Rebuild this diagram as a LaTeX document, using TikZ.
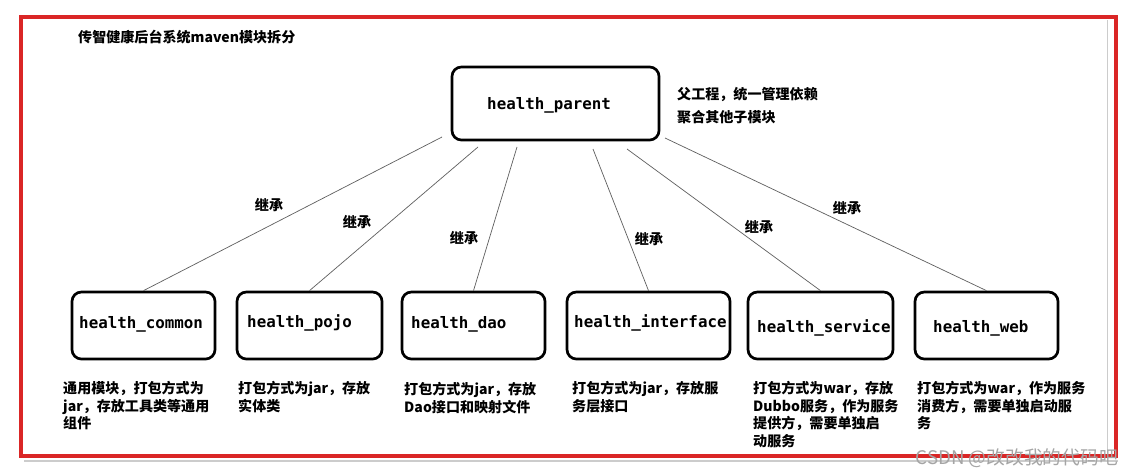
\documentclass[tikz,border=0pt]{standalone}
\usepackage{fontspec}
\usepackage{xcolor}
\usepackage{tikz}
\usetikzlibrary{positioning,calc}
\setmainfont{Noto Sans CJK SC}
\newfontfamily\mono{DejaVu Sans Mono}
\definecolor{ro}{RGB}{218,38,38}
\definecolor{gr}{RGB}{95,95,95}
\definecolor{wm}{RGB}{165,165,165}

\begin{document}
\begin{tikzpicture}[x=0.03cm,y=-0.03cm,
  modul/.style={draw,line width=2.3pt,rounded corners=8pt,inner sep=0pt,minimum height=2.01cm},
  modtxt/.style={anchor=west,inner sep=0pt,font=\mono\bfseries\fontsize{13.5}{16}\selectfont},
  notiz/.style={anchor=north west,inner sep=0pt,align=left,font=\bfseries\fontsize{12}{15}\selectfont},
  erbt/.style={line width=0.6pt,draw=gr},
  erbtxt/.style={inner sep=0pt,font=\bfseries\fontsize{12}{14}\selectfont}]
  \fill[white] (0,0) rectangle (1136,476);
  \useasboundingbox (0,0) rectangle (1136,476);

  % frame
  \draw[gray!40,line width=0.8pt] (1107,20) -- (1107,453);
  \draw[gray!40,line width=1pt] (24,461) -- (1118,461);
  \draw[ro,line width=2.8pt] (21,17) rectangle (1116,456);
  \node[anchor=west,inner sep=0pt,font=\bfseries\fontsize{12}{14}\selectfont] (titel) at (78,37) {传智健康后台系统maven模块拆分};

  % parent
  \node[modul,minimum width=6.21cm,minimum height=2.19cm] (parent) at (555.5,103.5) {};
  \node[modtxt] (tparent) at (487,105) {health\_parent};
  \node[notiz,font=\bfseries\fontsize{12}{19.6}\selectfont] (nparent) at (677,87.5) {父工程，统一管理依赖\\聚合其他子模块};

  % modules
  \node[modul,minimum width=4.29cm] (common) at (143.5,325.5) {};
  \node[modul,minimum width=4.35cm] (pojo) at (309.5,325.5) {};
  \node[modul,minimum width=4.29cm] (dao) at (473.5,325.5) {};
  \node[modul,minimum width=4.89cm] (interface) at (648.5,325.5) {};
  \node[modul,minimum width=4.35cm] (service) at (820.5,325.5) {};
  \node[modul,minimum width=4.29cm] (web) at (986.5,325.5) {};

  \node[modtxt] (tcommon) at (79,324) {health\_common};
  \node[modtxt] (tpojo) at (247,323) {health\_pojo};
  \node[modtxt] (tdao) at (411,324) {health\_dao};
  \node[modtxt] (tinterface) at (574,323) {health\_interface};
  \node[modtxt] (tservice) at (757,328) {health\_service};
  \node[modtxt] (tweb) at (933,328) {health\_web};

  % inheritance
  \coordinate (s1) at (442,137);
  \coordinate (s2) at (478,147);
  \coordinate (s3) at (517,147);
  \coordinate (s4) at (593,149);
  \coordinate (s5) at (627,149);
  \coordinate (s6) at (665,138);
  \draw[erbt] (s1) -- (common.north);
  \draw[erbt] (s2) -- (pojo.north);
  \draw[erbt] (s3) -- (dao.north);
  \draw[erbt] (s4) -- (interface.north);
  \draw[erbt] (s5) -- (service.north);
  \draw[erbt] (s6) -- (web.north);
  \node[erbtxt] (e1) at (269,205) {继承};
  \node[erbtxt] (e2) at (357,222) {继承};
  \node[erbtxt] (e3) at (464,238) {继承};
  \node[erbtxt] (e4) at (649,239) {继承};
  \node[erbtxt] (e5) at (759,227) {继承};
  \node[erbtxt] (e6) at (847,208) {继承};

  % notes
  \node[notiz] (ncommon) at (63,381) {通用模块，打包方式为\\jar，存放工具类等通用\\组件};
  \node[notiz] (npojo) at (238,381) {打包方式为jar，存放\\实体类};
  \node[notiz] (ndao) at (404,382) {打包方式为jar，存放\\Dao接口和映射文件};
  \node[notiz] (ninterface) at (572,381) {打包方式为jar，存放服\\务层接口};
  \node[notiz] (nservice) at (753,381) {打包方式为war，存放\\Dubbo服务，作为服务\\提供方，需要单独启\\动服务};
  \node[notiz] (nweb) at (917,381) {打包方式为war，作为服务\\消费方，需要单独启动服\\务};

  \node[anchor=east,inner sep=0pt,text=wm,font=\fontsize{16}{18}\selectfont] (wz) at (1118,458) {CSDN @改改我的代码吧};
\end{tikzpicture}
\end{document}
